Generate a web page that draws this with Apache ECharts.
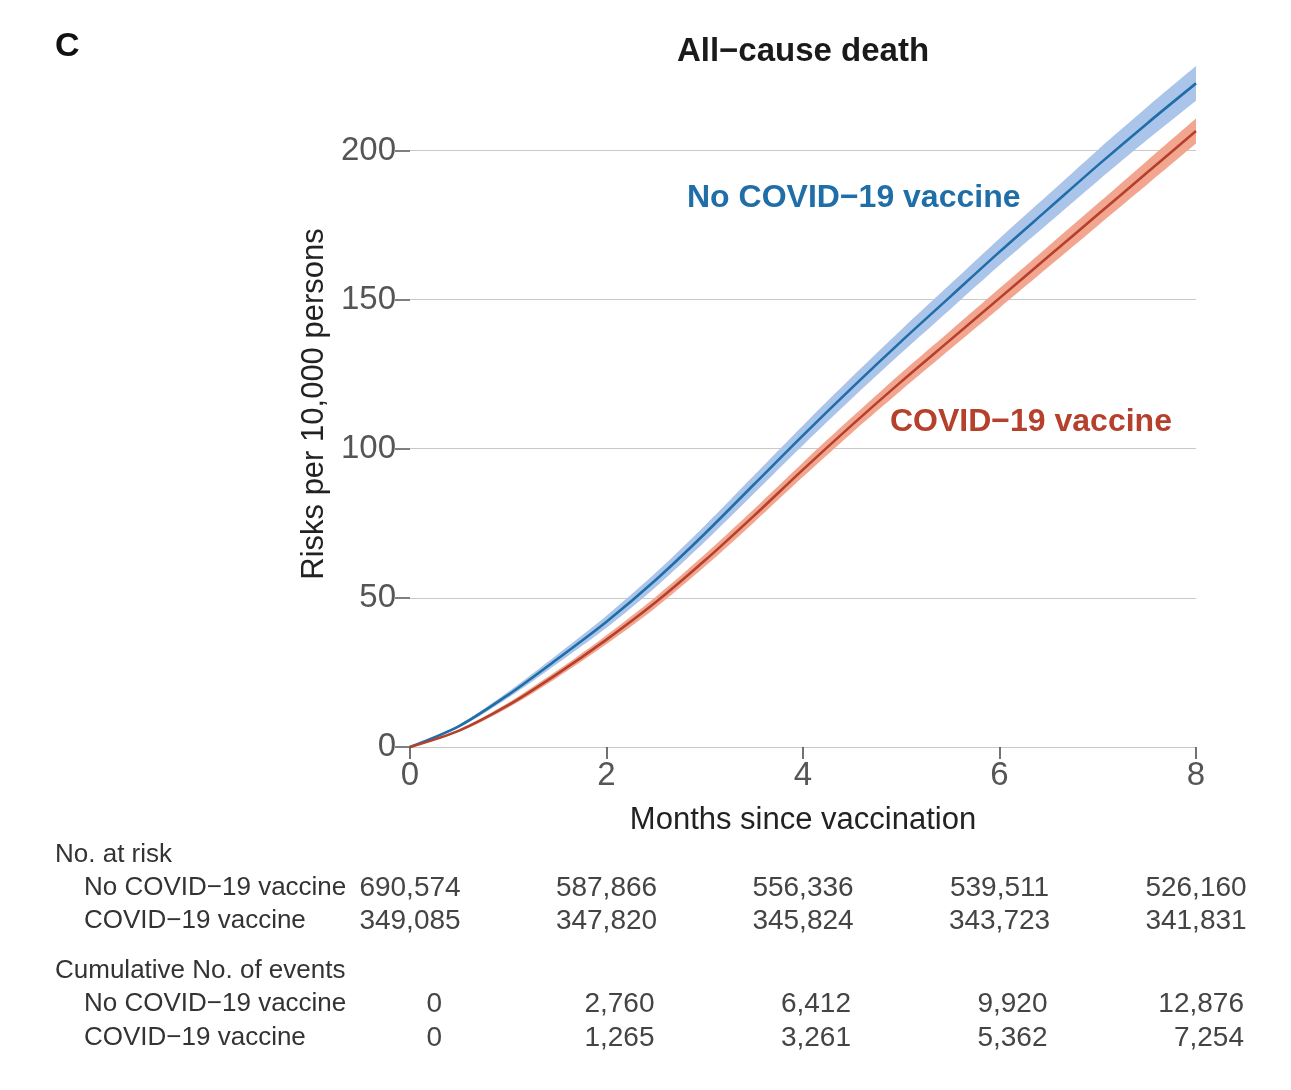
<!DOCTYPE html>
<html>
<head>
<meta charset="utf-8">
<script src="https://cdn.jsdelivr.net/npm/echarts@6/dist/echarts.min.js"></script>
<style>
  html, body { margin: 0; padding: 0; background: #fff; }
  #main { width: 1291px; height: 1090px; }
</style>
</head>
<body>
<div id="main"></div>
<script>
// months since vaccination
var months = ['0', '0.5', '1', '1.5', '2', '2.5', '3', '3.5', '4', '4.5', '5', '5.5', '6', '6.5', '7', '7.5', '8'];

// No COVID-19 vaccine: risk per 10,000 with 95% band
var noVaxRisk  = [0, 7.0, 17.5, 29.5, 42.0, 56.0, 71.5, 88.0, 104.5, 120.5, 136.0, 151.0, 166.0, 180.5, 195.0, 209.0, 222.5];
var noVaxLower = [0, 6.5, 16.5, 28.0, 40.0, 53.6, 68.8, 85.0, 101.2, 116.9, 132.1, 146.8, 161.5, 175.7, 189.8, 203.5, 216.7];
var noVaxUpper = [0, 7.5, 18.5, 31.0, 44.0, 58.4, 74.2, 91.0, 107.8, 124.1, 139.9, 155.2, 170.5, 185.3, 200.2, 214.5, 228.3];

// COVID-19 vaccine
var vaxRisk  = [0, 5.5, 14.0, 24.5, 36.0, 48.5, 62.5, 77.5, 93.0, 108.0, 122.5, 136.5, 150.5, 164.5, 178.5, 192.5, 206.5];
var vaxLower = [0, 5.1, 13.2, 23.3, 34.5, 46.7, 60.5, 75.3, 90.6, 105.4, 119.6, 133.4, 147.2, 161.0, 174.8, 188.5, 202.3];
var vaxUpper = [0, 5.9, 14.8, 25.7, 37.5, 50.3, 64.5, 79.7, 95.4, 110.6, 125.4, 139.6, 153.8, 168.0, 182.2, 196.5, 210.7];

var yTicks = [0, 50, 100, 150, 200];
var tableMonths = ['0', '2', '4', '6', '8'];
var atRiskNoVax = [690574, 587866, 556336, 539511, 526160];
var atRiskVax   = [349085, 347820, 345824, 343723, 341831];
var eventsNoVax = [0, 2760, 6412, 9920, 12876];
var eventsVax   = [0, 1265, 3261, 5362, 7254];

var BLUE = '#1f6ea8', BLUE_BAND = '#abc4ea';
var RED = '#b5402b', RED_BAND = '#f2a690';
var FONT = 'Liberation Sans, Arial, sans-serif';

function diffs(lo, hi) {
    return lo.map(function(v, i) { return +(hi[i] - v).toFixed(2); });
}

var chart = echarts.init(document.getElementById('main'));

function bandSeries(name, stack, data, color) {
    return {
        name: name, type: 'line', stack: stack, data: data,
        smooth: 0.3, symbol: 'none', silent: true,
        lineStyle: { width: 0, opacity: 0 },
        areaStyle: { color: color || 'rgba(0,0,0,0)', opacity: color ? 1 : 0 }
    };
}

var option = {
    animation: false,
    backgroundColor: '#fff',
    grid: { left: 410, right: 95, top: 61, bottom: 343 },
    xAxis: {
        type: 'category', data: months, boundaryGap: false,
        name: 'Months since vaccination', nameLocation: 'middle', nameGap: 58,
        nameTextStyle: { fontSize: 31, color: '#222', fontFamily: FONT },
        axisLine: { show: false },
        axisTick: { show: true, interval: 3, length: 12, lineStyle: { color: '#444', width: 1.5 } },
        axisLabel: { interval: 3, fontSize: 33, color: '#555', margin: 12, fontFamily: FONT },
        splitLine: { show: false }
    },
    yAxis: {
        type: 'value', min: 0, max: 230, interval: 50,
        name: 'Risks per 10,000 persons', nameLocation: 'middle', nameGap: 80,
        nameTextStyle: { fontSize: 31, color: '#222', fontFamily: FONT },
        axisLine: { show: false },
        axisTick: { show: true, length: 15, customValues: yTicks, lineStyle: { color: '#555', width: 1.5 } },
        axisLabel: { fontSize: 33, color: '#555', margin: 14, customValues: yTicks, fontFamily: FONT },
        splitLine: { show: true, lineStyle: { color: '#c9c9c9', width: 1.2 } }
    },
    series: [
        bandSeries('noVaxLow', 'b', noVaxLower, null),
        bandSeries('noVaxBand', 'b', diffs(noVaxLower, noVaxUpper), BLUE_BAND),
        bandSeries('vaxLow', 'r', vaxLower, null),
        bandSeries('vaxBand', 'r', diffs(vaxLower, vaxUpper), RED_BAND),
        {
            name: 'No COVID-19 vaccine', type: 'line', data: noVaxRisk,
            smooth: 0.3, symbol: 'none',
            lineStyle: { color: BLUE, width: 2.6 }
        },
        {
            name: 'COVID-19 vaccine', type: 'line', data: vaxRisk,
            smooth: 0.3, symbol: 'none',
            lineStyle: { color: RED, width: 2.6 }
        }
    ]
};
chart.setOption(option);

// text: panel letter, title, curve labels, risk table
function fmt(n) { return n.toLocaleString('en-US'); }
function txt(x, y, s, opt) {
    opt = opt || {};
    return {
        type: 'text', x: x, y: y, silent: true,
        style: {
            text: s, fill: opt.color || '#333',
            font: (opt.bold ? 'bold ' : '') + (opt.size || 26) + 'px ' + FONT,
            textAlign: opt.align || 'left', textVerticalAlign: 'middle'
        }
    };
}

var cols = tableMonths.map(function(m) { return chart.convertToPixel({ xAxisIndex: 0 }, m); });
var plotMid = (cols[0] + cols[cols.length - 1]) / 2;

var els = [
    txt(55, 47, 'C', { bold: true, size: 34, color: '#111' }),
    txt(plotMid, 52, 'All\u2212cause death', { bold: true, size: 33, color: '#1a1a1a', align: 'center' }),
    txt(687, 198, 'No COVID\u221219 vaccine', { bold: true, size: 32, color: BLUE }),
    txt(890, 422, 'COVID\u221219 vaccine', { bold: true, size: 32, color: RED }),
    txt(55, 855, 'No. at risk'),
    txt(84, 888, 'No COVID\u221219 vaccine'),
    txt(84, 921, 'COVID\u221219 vaccine'),
    txt(55, 971, 'Cumulative No. of events'),
    txt(84, 1004, 'No COVID\u221219 vaccine'),
    txt(84, 1038, 'COVID\u221219 vaccine')
];
cols.forEach(function(cx, i) {
    els.push(txt(cx, 888, fmt(atRiskNoVax[i]), { size: 28, color: '#444', align: 'center' }));
    els.push(txt(cx, 921, fmt(atRiskVax[i]), { size: 28, color: '#444', align: 'center' }));
    var ex = i === 0 ? cx + 32 : cx + 48;
    els.push(txt(ex, 1004, fmt(eventsNoVax[i]), { size: 28, color: '#444', align: 'right' }));
    els.push(txt(ex, 1038, fmt(eventsVax[i]), { size: 28, color: '#444', align: 'right' }));
});
chart.setOption({ graphic: { elements: els } });

window.onresize = function() {
    chart.resize();
};
</script>
</body>
</html>
